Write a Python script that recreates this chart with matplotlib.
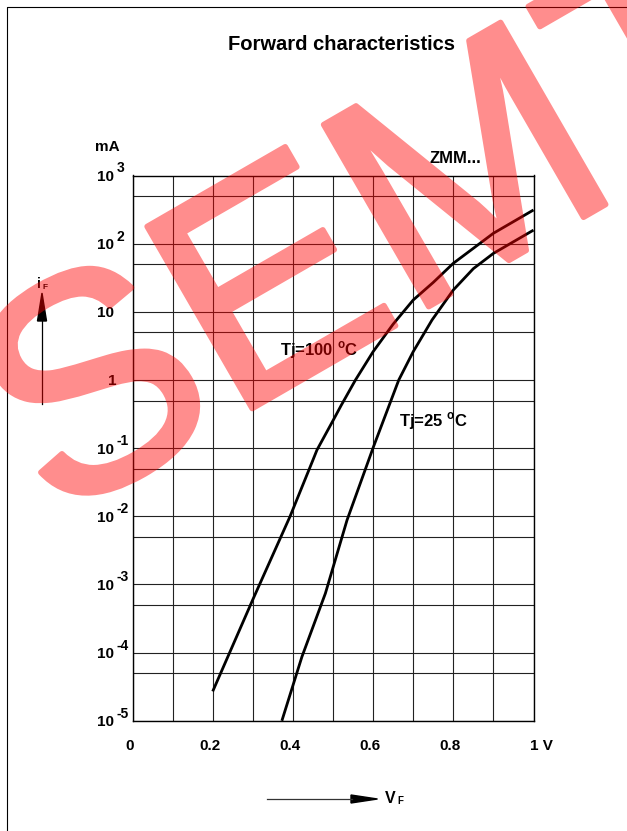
import numpy as np
import matplotlib.pyplot as plt
from matplotlib import patheffects
from matplotlib.patches import Polygon
from matplotlib.ticker import NullLocator

W, H = 627, 831

# forward current curves (V, mA)
vf_100 = [0.20, 0.30, 0.393, 0.45, 0.46, 0.501, 0.52, 0.556, 0.60, 0.65, 0.70, 0.75, 0.80, 0.90, 1.00]
if_100 = [2.7e-5, 6.0e-4, 1.0e-2, 0.067, 0.094, 0.26, 0.42, 1.0, 2.6, 6.6, 14.9, 27, 51.5, 142, 312]

vf_25 = [0.3725, 0.4225, 0.481, 0.535, 0.601, 0.664, 0.70, 0.747, 0.80, 0.85, 0.90, 1.00]
if_25 = [1.0e-5, 8.7e-5, 7.4e-4, 8.8e-3, 0.105, 1.0, 2.6, 7.6, 20.9, 43, 72, 158]

y_decades = [1e-5, 1e-4, 1e-3, 1e-2, 1e-1, 1, 10, 1e2, 1e3]
y_bases = ["10", "10", "10", "10", "10", "1", "10", "10", "10"]
y_exps = ["-5", "-4", "-3", "-2", "-1", "", "", "2", "3"]
y_halves = [5e-5, 5e-4, 5e-3, 5e-2, 0.5, 5, 50, 500]

x_grid = [0.0, 0.1, 0.2, 0.3, 0.4, 0.5, 0.6, 0.7, 0.8, 0.9, 1.0]
x_ticks = [0.0, 0.2, 0.4, 0.6, 0.8, 1.0]
x_labels = ["0", "0.2", "0.4", "0.6", "0.8", "1 V"]

plt.rcParams["font.family"] = ["Liberation Sans", "DejaVu Sans"]
plt.rcParams["font.weight"] = "bold"
plt.rcParams["mathtext.fontset"] = "custom"
plt.rcParams["mathtext.rm"] = "Liberation Sans:bold"
plt.rcParams["mathtext.bf"] = "Liberation Sans:bold"


def fade(img, dpi):
    # group opacity for the watermark
    img = img.copy()
    img[..., 3] *= 0.45
    return img, 0, 0


fig = plt.figure(figsize=(W / 100, H / 100), dpi=100)
ax = fig.add_axes([132.5 / W, 1 - 720.8 / H, 401 / W, (720.8 - 175.5) / H])
ax.set_yscale("log")
ax.set_xlim(0, 1)
ax.set_ylim(1e-5, 1e3)

ax.set_xticks(x_grid)
ax.set_yticks(y_decades + y_halves)
ax.yaxis.set_minor_locator(NullLocator())
ax.tick_params(length=0, labelbottom=False, labelleft=False)
ax.grid(True, color="#222222", lw=0.8)
for s in ax.spines.values():
    s.set_linewidth(1.0)
    s.set_color("black")

ax.plot(vf_100, if_100, color="black", lw=2.0, solid_capstyle="butt", zorder=3)
ax.plot(vf_25, if_25, color="black", lw=2.0, solid_capstyle="butt", zorder=3)

# y tick labels with raised exponents
for v, b, e in zip(y_decades, y_bases, y_exps):
    if b == "1":
        ax.annotate(b, xy=(0, v), xycoords=("axes fraction", "data"), xytext=(-16, -5.5),
                    textcoords="offset pixels", ha="right", va="baseline", fontsize=11)
    else:
        ax.annotate(b, xy=(0, v), xycoords=("axes fraction", "data"), xytext=(-35.5, -5.5),
                    textcoords="offset pixels", ha="left", va="baseline", fontsize=11)
    if e:
        ax.annotate(e, xy=(0, v), xycoords=("axes fraction", "data"), xytext=(-16, 3),
                    textcoords="offset pixels", ha="left", va="baseline", fontsize=10)

for v, lab in zip(x_ticks, x_labels):
    if lab == "1 V":
        ax.annotate(lab, xy=(v, 0), xycoords=("data", "axes fraction"), xytext=(-3, -29),
                    textcoords="offset pixels", ha="left", va="baseline", fontsize=11)
    else:
        ax.annotate(lab, xy=(v, 0), xycoords=("data", "axes fraction"), xytext=(-3, -29),
                    textcoords="offset pixels", ha="center", va="baseline", fontsize=11)

ax.text(0.368, 2.3, r"Tj=100 $^{\rm o}$C", fontsize=12, ha="left", va="baseline", zorder=4)
ax.text(0.664, 0.206, r"Tj=25 $^{\rm o}$C", fontsize=12, ha="left", va="baseline", zorder=4)

# overlay in pixel coordinates for the page decorations
ov = fig.add_axes([0, 0, 1, 1], zorder=5)
ov.set_xlim(0, W)
ov.set_ylim(H, 0)
ov.axis("off")

ov.plot([7, 7, W], [H, 7, 7], color="black", lw=0.8)
ov.text(341.5, 50.5, "Forward characteristics", fontsize=14.5, ha="center", va="baseline")
ov.text(107, 151, "mA", fontsize=11, ha="center", va="baseline")
ov.text(430, 163, "ZMM...", fontsize=12, ha="left", va="baseline")

# i_F arrow
ov.plot([42, 42], [404, 320], color="black", lw=0.9)
ov.add_patch(Polygon([[37.5, 321], [42, 293], [46.5, 321]], closed=True, color="black"))
ov.text(37, 288.5, "i", fontsize=10, ha="left", va="baseline")
ov.text(42.5, 289, "F", fontsize=6, ha="left", va="baseline")

# V_F arrow
ov.plot([267, 352], [799, 799], color="#333333", lw=0.9)
ov.add_patch(Polygon([[351, 795], [377.5, 799], [351, 803]], closed=True, color="black"))
ov.text(384.5, 803, "V", fontsize=11.5, ha="left", va="baseline")
ov.text(397.5, 804, "F", fontsize=7, ha="left", va="baseline")

# watermark
wm = ov.text(54, 523, "SEMTECH", fontsize=220, fontweight="normal", color="red",
             rotation=30, rotation_mode="anchor", ha="left", va="baseline", zorder=10)
wm.set_path_effects([patheffects.Stroke(linewidth=4, foreground="red")])
wm.set_agg_filter(fade)

fig.savefig("out.png", dpi=100)
